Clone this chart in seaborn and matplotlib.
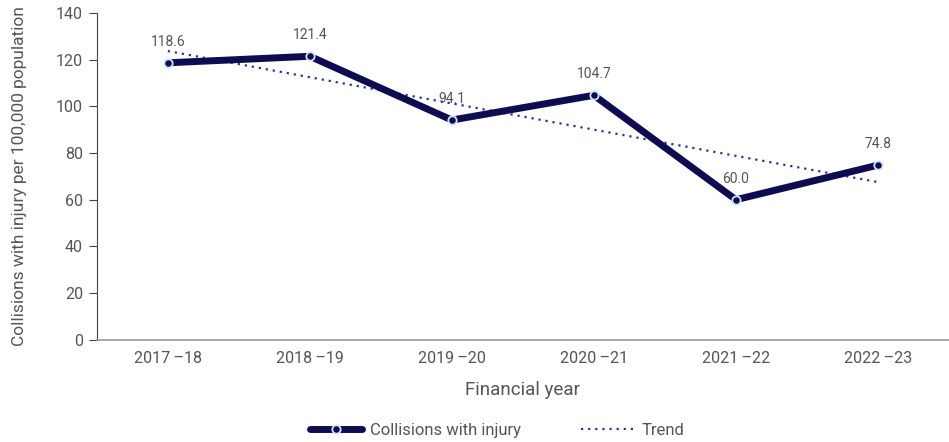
import numpy as np
import pandas as pd
import matplotlib
matplotlib.use("Agg")
import matplotlib.pyplot as plt
import seaborn as sns
from matplotlib.lines import Line2D

years = ["2017\u2009–18", "2018\u2009–19", "2019\u2009–20", "2020\u2009–21", "2021\u2009–22", "2022\u2009–23"]
collisions = [118.6, 121.4, 94.1, 104.7, 60.0, 74.8]
y_ticks = [0, 20, 40, 60, 80, 100, 120, 140]

sns.set_theme(style="white")
plt.rcParams["font.family"] = ["Roboto", "DejaVu Sans"]

navy = "#0e0b50"
trend_col = "#2a3596"
text_col = "#555555"

x = np.arange(len(years))
df = pd.DataFrame({"x": x, "year": years, "value": collisions})

# least-squares trend over the six years
slope, intercept = np.polyfit(x, collisions, 1)
df["trend"] = intercept + slope * x

fig = plt.figure(figsize=(9.49, 4.42), dpi=100)
ax = fig.add_axes([0.102, 0.231, 0.898, 0.740])

sns.lineplot(data=df, x="x", y="trend", ax=ax, color=trend_col, lw=1.6,
             linestyle=(0, (1, 2.2)), zorder=2)
sns.lineplot(data=df, x="x", y="value", ax=ax, color=navy, lw=5,
             marker="o", markersize=6, markerfacecolor=navy,
             markeredgecolor="#cfe6f7", markeredgewidth=1.3, zorder=3)

for xi, v in zip(x, collisions):
    ax.annotate(f"{v:.1f}", (xi, v), xytext=(0, 10), textcoords="offset points",
                ha="center", va="bottom", fontsize=10, color=text_col)

ax.set_xlim(-0.5, 5.5)
ax.set_ylim(0, 140)
ax.set_xticks(x)
ax.set_xticklabels(years)
ax.set_yticks(y_ticks)
ax.tick_params(axis="y", which="major", left=True, length=6, width=0.8,
               color="#444444", labelsize=11.5, labelcolor=text_col, pad=4)
ax.tick_params(axis="x", which="major", bottom=False, labelsize=11.5,
               labelcolor=text_col, pad=2)

for s in ["top", "right"]:
    ax.spines[s].set_visible(False)
ax.spines["left"].set_color("#444444")
ax.spines["left"].set_linewidth(0.8)
ax.spines["bottom"].set_color("#999999")
ax.spines["bottom"].set_linewidth(1.2)

ax.set_xlabel("Financial year", fontsize=13.5, color=text_col, labelpad=11)
ax.set_ylabel("Collisions with injury per 100,000 population", fontsize=12.5,
              color=text_col, labelpad=21)

handles = [
    Line2D([0], [0], color=navy, lw=5, marker="o", markersize=6,
           markerfacecolor=navy, markeredgecolor="#cfe6f7", markeredgewidth=1.3,
           solid_capstyle="round"),
    Line2D([0], [0], color=trend_col, lw=1.6, linestyle=(0, (1, 2.2))),
]
fig.legend(handles, ["Collisions with injury", "Trend"], loc="center",
           bbox_to_anchor=(0.524, 0.027), ncol=2, frameon=False, fontsize=12,
           handlelength=3.1, columnspacing=3.6, handletextpad=0.5,
           labelcolor=text_col)

fig.savefig("out.png", dpi=100)
